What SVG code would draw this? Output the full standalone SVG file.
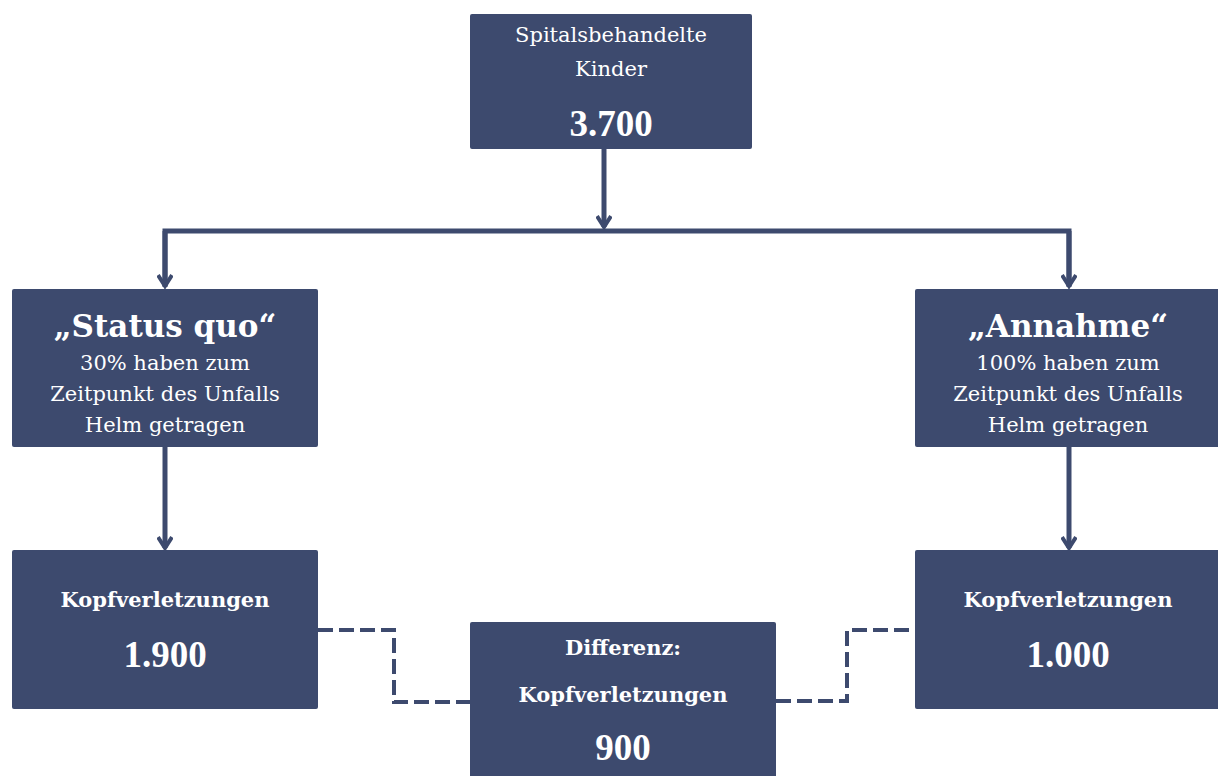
<svg xmlns="http://www.w3.org/2000/svg" width="1218" height="776" viewBox="0 0 1218 776">
<style>
.box{fill:#3d4a6e}
text{font-family:"DejaVu Serif","Liberation Serif",serif;fill:#ffffff;text-anchor:middle}
.r{font-size:21px}
.h{font-size:31px;font-weight:bold}
.n{font-family:"Liberation Serif","DejaVu Serif",serif;font-size:37px;font-weight:bold}
.k{font-size:21px;font-weight:bold}
.ln{fill:none;stroke:#3d4a6e;stroke-width:5}
.ds{fill:none;stroke:#3d4a6e;stroke-width:4;stroke-dasharray:15 6}
</style>
<defs>
<marker id="ah" viewBox="0 0 16 16" refX="13" refY="8" markerWidth="16" markerHeight="16" markerUnits="userSpaceOnUse" orient="auto">
<path d="M2,1 L13,8 L2,15" fill="none" stroke="#3d4a6e" stroke-width="4"/>
</marker>
</defs>
<g id="connectors">
<path class="ln" d="M604,149 V227" marker-end="url(#ah)"/>
<path class="ln" d="M165,287 V231 H1069 V287"/>
<path class="ln" d="M165,231 V286" marker-end="url(#ah)"/>
<path class="ln" d="M1069,231 V286" marker-end="url(#ah)"/>
<path class="ln" d="M165,447 V548" marker-end="url(#ah)"/>
<path class="ln" d="M1069,447 V548" marker-end="url(#ah)"/>
<path class="ds" d="M318,630 H394 V702 H470"/>
<path class="ds" d="M776,701 H847 V630 H915"/>
</g>
<g id="top">
<rect class="box" x="470" y="14" width="282" height="135" rx="2"/>
<text class="r" x="611" y="42">Spitalsbehandelte</text>
<text class="r" x="611" y="76">Kinder</text>
<text class="n" x="611" y="136">3.700</text>
</g>
<g id="status">
<rect class="box" x="12" y="289" width="306" height="158" rx="2"/>
<text class="h" x="165" y="337">„Status quo“</text>
<text class="r" x="165" y="370">30% haben zum</text>
<text class="r" x="165" y="401">Zeitpunkt des Unfalls</text>
<text class="r" x="165" y="432">Helm getragen</text>
</g>
<g id="annahme">
<rect class="box" x="915" y="289" width="306" height="158" rx="2"/>
<text class="h" x="1068" y="337">„Annahme“</text>
<text class="r" x="1068" y="370">100% haben zum</text>
<text class="r" x="1068" y="401">Zeitpunkt des Unfalls</text>
<text class="r" x="1068" y="432">Helm getragen</text>
</g>
<g id="kopf-left">
<rect class="box" x="12" y="550" width="306" height="159" rx="2"/>
<text class="k" x="165" y="607">Kopfverletzungen</text>
<text class="n" x="165" y="667">1.900</text>
</g>
<g id="kopf-right">
<rect class="box" x="915" y="550" width="306" height="159" rx="2"/>
<text class="k" x="1068" y="607">Kopfverletzungen</text>
<text class="n" x="1068" y="667">1.000</text>
</g>
<g id="differenz">
<rect class="box" x="470" y="622" width="306" height="160" rx="2"/>
<text class="k" x="623" y="655">Differenz:</text>
<text class="k" x="623" y="702">Kopfverletzungen</text>
<text class="n" x="623" y="760">900</text>
</g>
</svg>
